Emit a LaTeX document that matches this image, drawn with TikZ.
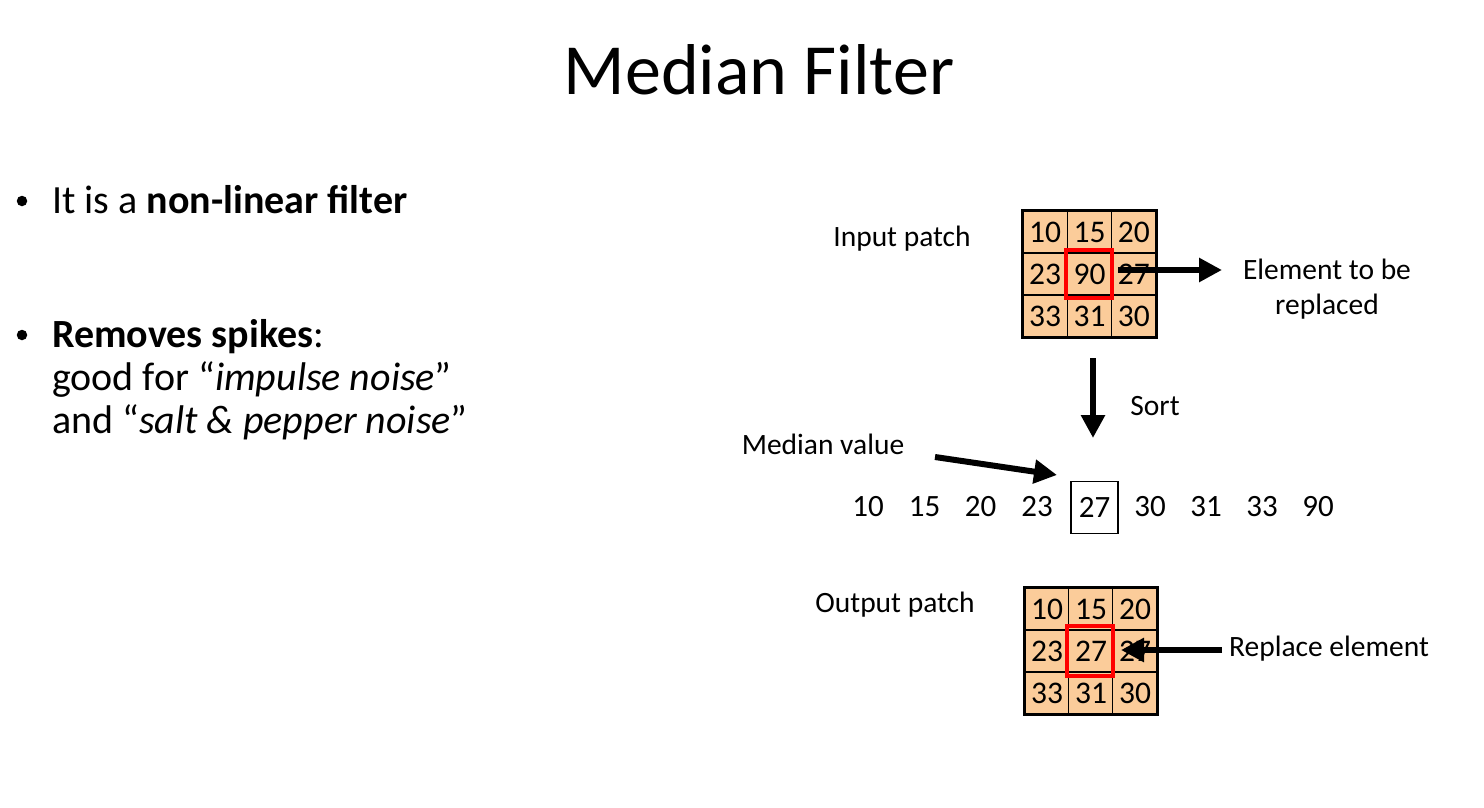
\documentclass[tikz,border=0pt]{standalone}
\usepackage{fontspec}
\setmainfont{Carlito}
\usetikzlibrary{arrows.meta}
\definecolor{peach}{RGB}{251,204,154}
\definecolor{redbox}{RGB}{255,0,0}
\begin{document}
\begin{tikzpicture}[x=1pt,y=-1pt,
  cell/.style={draw=black, line width=1.2pt, fill=peach, inner sep=0pt,
    minimum width=44.3pt, minimum height=42pt, font=\fontsize{31.5}{31.5}\selectfont},
  num/.style={inner sep=0pt, font=\fontsize{31}{31}\selectfont},
  lbl/.style={inner sep=0pt, font=\fontsize{29.5}{35}\selectfont},
  bul/.style={inner sep=0pt, anchor=base west, font=\fontsize{40}{43}\selectfont},
  dot/.style={circle, fill=black, inner sep=0pt, minimum size=10.5pt},
  bigarrow/.style={line width=6pt, -{Triangle[length=23pt,width=23pt]}},
  redframe/.style={draw=redbox, line width=4pt}]
\useasboundingbox (0,0) rectangle (1484,808);
% title
\node[inner sep=0pt, font=\fontsize{72}{80}\selectfont] (title) at (759,70) {Median Filter};
% bullets
\node[dot] (b1) at (22,201) {};
\node[bul] (t1) at (52,213) {It is a \textbf{non-linear filter}};
\node[dot] (b2) at (22,335) {};
\node[bul] (t2) at (52,347) {\textbf{Removes spikes}:};
\node[bul] (t3) at (52,390) {good for ``\textit{impulse noise}''};
\node[bul] (t4) at (52,433) {and ``\textit{salt \& pepper noise}''};
% input patch
\node[cell] (i11) at (1045.2,232) {10};
\node[cell] (i12) at (1089.5,232) {15};
\node[cell] (i13) at (1133.8,232) {20};
\node[cell] (i21) at (1045.2,274) {23};
\node[cell] (i22) at (1089.5,274) {90};
\node[cell] (i23) at (1133.8,274) {27};
\node[cell] (i31) at (1045.2,316) {33};
\node[cell] (i32) at (1089.5,316) {31};
\node[cell] (i33) at (1133.8,316) {30};
\draw[line width=3pt] (i11.north west) rectangle (i33.south east);
\draw[redframe] ([xshift=-0.5pt,yshift=2pt]i22.north west) rectangle ([xshift=-0.5pt,yshift=-2pt]i22.south east);
\node[lbl] (inlbl) at (902,239) {Input patch};
\node[lbl, align=center] (elem) at (1327,289) {Element to be\\replaced};
\coordinate (s1) at (1118,270);
\coordinate (s2) at (1222,270);
\draw[bigarrow] (s1) -- (s2);
% sort arrow
\coordinate (d1) at (1093,358);
\coordinate (d2) at (1093,438);
\draw[bigarrow] (d1) -- (d2);
\node[lbl] (sort) at (1155,406) {Sort};
% sorted row
\node[num] (n1) at (868,507) {10};
\node[num] (n2) at (924.5,507) {15};
\node[num] (n3) at (980.5,507) {20};
\node[num] (n4) at (1037,507) {23};
\node[num, draw, line width=1.2pt, minimum width=47pt, minimum height=52pt] (n5) at (1094.5,507.5) {27};
\node[num] (n6) at (1150,507) {30};
\node[num] (n7) at (1206,507) {31};
\node[num] (n8) at (1262,507) {33};
\node[num] (n9) at (1318,507) {90};
\node[lbl] (med) at (823,444) {Median value};
\coordinate (m1) at (935,457);
\coordinate (m2) at (1057,475);
\draw[bigarrow] (m1) -- (m2);
% output patch
\node[cell] (o11) at (1047,609) {10};
\node[cell] (o12) at (1091,609) {15};
\node[cell] (o13) at (1135,609) {20};
\node[cell] (o21) at (1047,651) {23};
\node[cell] (o22) at (1091,651) {27};
\node[cell] (o23) at (1135,651) {27};
\node[cell] (o31) at (1047,693) {33};
\node[cell] (o32) at (1091,693) {31};
\node[cell] (o33) at (1135,693) {30};
\draw[line width=3pt] (o11.north west) rectangle (o33.south east);
\draw[redframe] ([xshift=-1pt,yshift=3pt]o22.north west) rectangle ([xshift=-1pt,yshift=-3pt]o22.south east);
\node[lbl] (outlbl) at (895,605) {Output patch};
\node[lbl] (repl) at (1329,649) {Replace element};
\coordinate (r1) at (1222,650);
\coordinate (r2) at (1121,650);
\draw[bigarrow] (r1) -- (r2);
\end{tikzpicture}
\end{document}
